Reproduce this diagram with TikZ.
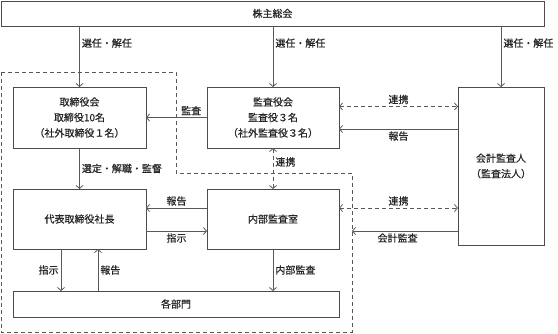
\documentclass[tikz,border=0pt]{standalone}
\usepackage{fontspec}
\setmainfont{Noto Sans CJK JP}[RawFeature={embolden=0.6}]
\usetikzlibrary{arrows.meta, positioning, calc}

\tikzset{
    box/.style={draw=black!70, line width=0.8pt, inner sep=0pt, outer sep=0pt, align=center,
        font=\fontsize{10}{15.5}\selectfont, text=black!85},
    lbl/.style={font=\fontsize{10}{12}\selectfont, inner sep=2pt, text=black!85},
    link/.style={draw=black!65, line width=0.8pt, -{Straight Barb[length=3pt,width=7pt]}},
    coop/.style={link, {Straight Barb[length=3pt,width=7pt]}-{Straight Barb[length=3pt,width=7pt]},
        dash pattern=on 4pt off 3pt},
    group/.style={draw=black!65, line width=0.8pt, dash pattern=on 4pt off 3pt}
}

\begin{document}
\begin{tikzpicture}[x=1pt, y=-1pt]
    \useasboundingbox (0,0) rectangle (558,333);

    % Riquadro tratteggiato
    \coordinate (g1) at (1,72);
    \coordinate (g2) at (176,72);
    \coordinate (g3) at (176,173);
    \coordinate (g4) at (352,173);
    \coordinate (g5) at (352,332);
    \coordinate (g6) at (1,332);
    \draw[group] (g1) -- (g2) -- (g3) -- (g4) -- (g5) -- (g6) -- cycle;

    % Organi
    \node[box, minimum width=543pt, minimum height=25pt] (soukai) at (272.5,13.5) {株主総会};
    \node[box, minimum width=133pt, minimum height=61pt] (torishimari) at (79.5,117.5)
        {取締役会\\取締役10名\\（社外取締役１名）};
    \node[box, minimum width=132pt, minimum height=61pt] (kansayaku) at (273,117.5)
        {監査役会\\監査役３名\\（社外監査役３名）};
    \node[box, minimum width=86pt, minimum height=158pt] (kaikei) at (501,166)
        {会計監査人\\（監査法人）};
    \node[box, minimum width=133pt, minimum height=60pt] (shacho) at (79.5,219) {代表取締役社長};
    \node[box, minimum width=132pt, minimum height=60pt] (naibu) at (273,219) {内部監査室};
    \node[box, minimum width=326pt, minimum height=26pt] (bumon) at (176,304) {各部門};

    % Nomina dall'assemblea
    \foreach \dest in {torishimari, kansayaku, kaikei}{
        \draw[link] (soukai.south -| \dest.north) -- node[lbl, right, pos=0.28] {選任・解任} (\dest.north);
    }

    % Collegio sindacale e revisore
    \draw[link] (kansayaku.west) -- node[lbl, above, pos=0.26] {監査} (torishimari.east);
    \draw[coop] ([yshift=11pt]kansayaku.east) -- node[lbl, above] {連携} ([yshift=11pt]kansayaku.east -| kaikei.west);
    \draw[link] ([yshift=-11.5pt]kansayaku.east -| kaikei.west) -- node[lbl, below] {報告} ([yshift=-11.5pt]kansayaku.east);
    \draw[link] (torishimari.south) -- node[lbl, right] {選定・解職・監督} (shacho.north);
    \draw[coop] (kansayaku.south -| naibu.north) -- node[lbl, right, pos=0.34] {連携} (naibu.north);

    % Audit interno
    \draw[link] ([yshift=11pt]naibu.west) -- node[lbl, above] {報告} ([yshift=11pt]naibu.west -| shacho.east);
    \draw[link] ([yshift=-12pt]shacho.east) -- node[lbl, below] {指示} ([yshift=-12pt]shacho.east -| naibu.west);
    \draw[coop] ([yshift=11pt]naibu.east) -- node[lbl, above] {連携} ([yshift=11pt]naibu.east -| kaikei.west);
    \coordinate (audit) at ([yshift=-12pt]naibu.east -| g4);
    \draw[link] (audit -| kaikei.west) -- node[lbl, below, pos=0.57] {会計監査} (audit);

    % Reparti
    \draw[link] ([xshift=-18.5pt]shacho.south) -- node[lbl, left] {指示} ([xshift=-18.5pt]shacho.south |- bumon.north);
    \draw[link] ([xshift=18.5pt]shacho.south |- bumon.north) -- node[lbl, right] {報告} ([xshift=18.5pt]shacho.south);
    \draw[link] (naibu.south) -- node[lbl, right] {内部監査} (naibu.south |- bumon.north);
\end{tikzpicture}
\end{document}
